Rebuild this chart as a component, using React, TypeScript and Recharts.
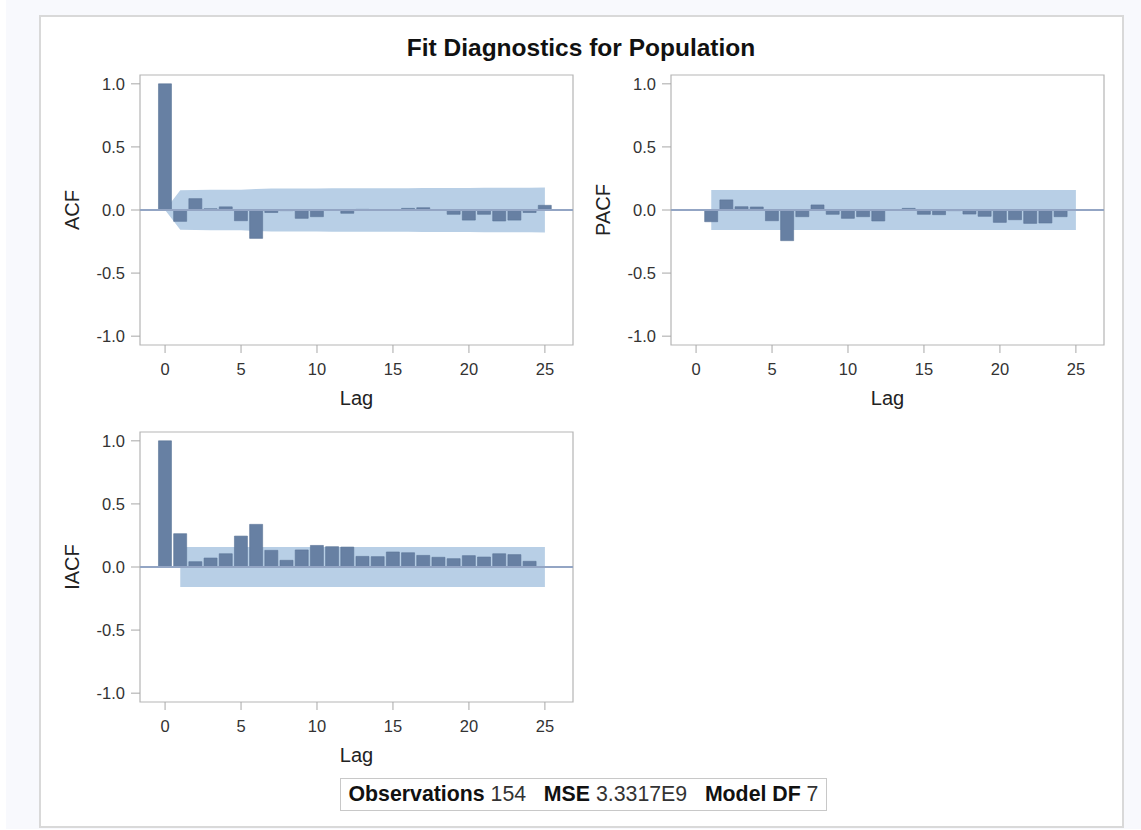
import React from 'react';
import { ComposedChart, Bar, Area, XAxis, YAxis, ReferenceLine, ReferenceArea } from 'recharts';

// lags 0..25 shared by all three panels
const lags = [0, 1, 2, 3, 4, 5, 6, 7, 8, 9, 10, 11, 12, 13, 14, 15, 16, 17, 18, 19, 20, 21, 22, 23, 24, 25];

const acfValues = [1.0, -0.09, 0.09, 0.01, 0.025, -0.085, -0.225, -0.02, -0.005, -0.066, -0.053, 0.003, -0.026, 0.005, 0.002, -0.003, 0.013, 0.018, -0.004, -0.034, -0.08, -0.034, -0.087, -0.08, -0.02, 0.037];
const acfBand = [0, 0.157, 0.158, 0.16, 0.16, 0.161, 0.167, 0.17, 0.17, 0.171, 0.171, 0.172, 0.172, 0.172, 0.173, 0.173, 0.173, 0.174, 0.174, 0.175, 0.175, 0.176, 0.176, 0.177, 0.177, 0.178];

const pacfValues = [null, -0.093, 0.08, 0.026, 0.024, -0.085, -0.243, -0.053, 0.04, -0.034, -0.066, -0.053, -0.087, -0.003, 0.013, -0.034, -0.037, -0.005, -0.032, -0.05, -0.098, -0.077, -0.106, -0.103, -0.053, -0.003];
const pacfBand = [null, 0.159, 0.159, 0.159, 0.159, 0.159, 0.159, 0.159, 0.159, 0.159, 0.159, 0.159, 0.159, 0.159, 0.159, 0.159, 0.159, 0.159, 0.159, 0.159, 0.159, 0.159, 0.159, 0.159, 0.159, 0.159];

const iacfValues = [1.0, 0.264, 0.042, 0.071, 0.105, 0.245, 0.338, 0.132, 0.053, 0.135, 0.171, 0.161, 0.158, 0.084, 0.082, 0.119, 0.113, 0.092, 0.077, 0.066, 0.09, 0.079, 0.105, 0.098, 0.045, 0];
const iacfBand = [null, 0.158, 0.158, 0.158, 0.158, 0.158, 0.158, 0.158, 0.158, 0.158, 0.158, 0.158, 0.158, 0.158, 0.158, 0.158, 0.158, 0.158, 0.158, 0.158, 0.158, 0.158, 0.158, 0.158, 0.158, 0.158];

const xTicks = [0, 5, 10, 15, 20, 25];
const yTicks = [-1, -0.5, 0, 0.5, 1];

const X_DOMAIN: [number, number] = [-1.65, 26.85];
const Y_DOMAIN: [number, number] = [-1.07, 1.07];

const FONT = '"Liberation Sans", Arial, sans-serif';

const buildRows = (values: (number | null)[], band: (number | null)[]) =>
  lags.map((lag, i) => ({
    lag,
    value: values[i],
    band: band[i] == null ? undefined : [-(band[i] as number), band[i] as number],
  }));

const YLabel = ({ viewBox, value }: any) => {
  const cx = viewBox.x + 22;
  const cy = viewBox.y + viewBox.height / 2;
  return (
    <text x={cx} y={cy} transform={`rotate(-90, ${cx}, ${cy})`} textAnchor="middle" dominantBaseline="central"
      fontSize={20} fill="#222" fontFamily={FONT}>{value}</text>
  );
};

const XLabel = ({ viewBox, value }: any) => (
  <text x={viewBox.x + viewBox.width / 2} y={viewBox.y + 53} textAnchor="middle" dominantBaseline="central"
    fontSize={20} fill="#222" fontFamily={FONT}>{value}</text>
);

interface PanelProps { rows: any[]; name: string; left: number; top: number; }

const Panel: React.FC<PanelProps> = ({ rows, name, left, top }) => (
  <div style={{ position: 'absolute', left, top }}>
    <ComposedChart width={560} height={380} data={rows} margin={{ top: 15, right: 37, left: 0, bottom: 35 }}>
      <XAxis dataKey="lag" type="number" domain={X_DOMAIN} ticks={xTicks} allowDataOverflow axisLine={false}
        tickSize={8} tickMargin={10} height={60} tickLine={{ stroke: '#a8a8a8' }}
        tick={{ fontSize: 16.5, fill: '#333', fontFamily: FONT }}
        label={{ value: 'Lag', content: XLabel }} />
      <YAxis type="number" domain={Y_DOMAIN} ticks={yTicks} allowDataOverflow axisLine={false} width={90}
        tickSize={9} tickMargin={6} tickLine={{ stroke: '#a8a8a8' }} tickFormatter={(v: number) => v.toFixed(1)}
        tick={{ fontSize: 16.5, fill: '#333', fontFamily: FONT }}
        label={{ value: name, content: YLabel }} />
      <Area dataKey="band" type="linear" fill="#b8cfe6" fillOpacity={1} stroke="none" isAnimationActive={false} />
      <ReferenceLine y={0} stroke="#93a5c4" strokeWidth={2} />
      <Bar dataKey="value" barSize={13} fill="#6780a3" stroke="#5a7397" strokeWidth={0.6} isAnimationActive={false} />
      <ReferenceArea x1={X_DOMAIN[0]} x2={X_DOMAIN[1]} y1={Y_DOMAIN[0]} y2={Y_DOMAIN[1]} fill="none"
        fillOpacity={0} stroke="#b5b5b5" strokeWidth={1.2} ifOverflow="visible" />
    </ComposedChart>
  </div>
);

export default function App() {
  return (
    <div style={{ position: 'fixed', left: 0, top: 0, width: 1141, height: 830, background: '#ffffff' }}>
      <div style={{ position: 'absolute', left: 6, top: 0, width: 1135, height: 829, background: '#f8f9fd' }} />
      <div style={{ position: 'absolute', left: 39, top: 15, width: 1081, height: 809, background: '#fff',
        border: '2px solid #d9d9d9' }} />
      <div style={{ position: 'absolute', left: 40, top: 34, width: 1082, textAlign: 'center', fontFamily: FONT,
        fontWeight: 'bold', fontSize: 24.5, color: '#111' }}>Fit Diagnostics for Population</div>
      <Panel rows={buildRows(acfValues, acfBand)} name="ACF" left={50} top={60} />
      <Panel rows={buildRows(pacfValues, pacfBand)} name="PACF" left={581} top={60} />
      <Panel rows={buildRows(iacfValues, iacfBand)} name="IACF" left={50} top={417} />
      <div style={{ position: 'absolute', left: 340, top: 778, width: 485, height: 31, border: '1px solid #c8c8c8',
        fontFamily: FONT, fontSize: 21.3, color: '#333', display: 'flex', alignItems: 'center', justifyContent: 'center',
        whiteSpace: 'pre' }}>
        <b style={{ color: '#111' }}>Observations</b> 154   <b style={{ color: '#111' }}>MSE</b> 3.3317E9   <b style={{ color: '#111' }}>Model DF</b> 7
      </div>
    </div>
  );
}
